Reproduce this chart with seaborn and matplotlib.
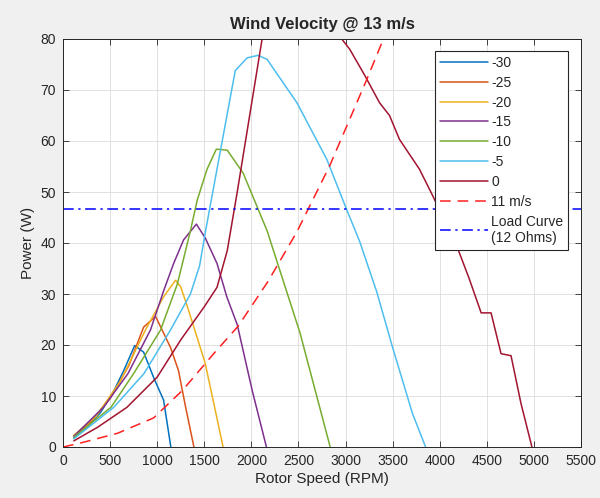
import matplotlib
matplotlib.use("Agg")
import matplotlib.pyplot as plt
import seaborn as sns
import pandas as pd

# ---- data ----
rpm_m30 = [115, 250, 400, 540, 650, 761, 856, 965, 1068, 1145]
pw_m30 = [1.8, 3.8, 6.8, 11.0, 15.2, 19.9, 18.6, 13.5, 9.2, 0.0]

rpm_m25 = [115, 300, 500, 700, 856, 983, 1142, 1226, 1300, 1390]
pw_m25 = [2.2, 5.0, 9.5, 16.0, 23.5, 25.6, 19.5, 15.0, 8.0, 0.0]

rpm_m20 = [115, 350, 613, 877, 1070, 1195, 1250, 1330, 1510, 1700]
pw_m20 = [2.3, 6.0, 13.0, 23.0, 29.5, 32.7, 31.4, 27.0, 16.4, 0.0]

rpm_m15 = [115, 430, 690, 930, 1070, 1175, 1280, 1416, 1510, 1635, 1740, 1850, 2010, 2160]
pw_m15 = [2.1, 7.8, 14.4, 23.0, 30.7, 36.0, 40.6, 43.7, 41.0, 36.0, 29.4, 24.0, 11.0, 0.0]

rpm_m10 = [115, 510, 750, 1035, 1215, 1353, 1425, 1530, 1628, 1744, 1913, 2167, 2516, 2837]
pw_m10 = [1.9, 7.8, 14.4, 22.9, 32.0, 42.4, 48.4, 54.5, 58.4, 58.2, 53.7, 42.4, 22.4, 0.0]

rpm_m5 = [115, 540, 860, 1140, 1353, 1450, 1512, 1829, 1955, 2072, 2167, 2484,
          2801, 3013, 3150, 3330, 3500, 3710, 3850]
pw_m5 = [1.6, 7.8, 14.4, 22.9, 30.0, 35.5, 42.2, 73.8, 76.3, 76.8, 76.0, 67.5,
         56.4, 46.5, 40.3, 30.5, 19.5, 6.6, 0.0]

rpm_0 = [115, 370, 680, 1000, 1250, 1500, 1635, 1744, 1850, 2114, 2300, 2550, 2800,
         2939, 3044, 3200, 3361, 3467, 3573, 3784, 3922, 4050, 4175, 4313, 4440,
         4545, 4651, 4757, 4862, 4979]
pw_0 = [1.2, 3.9, 7.8, 13.7, 21.0, 27.5, 31.3, 38.5, 50.0, 80.0, 95.0, 100.0, 90.0,
        80.5, 78.0, 73.0, 67.5, 65.0, 60.3, 54.5, 49.4, 44.5, 39.7, 33.0, 26.3,
        26.3, 18.3, 17.9, 8.6, 0.0]

rpm_11 = [0, 190, 580, 962, 1268, 1600, 1860, 2178, 2484, 2833, 3224, 3393, 3600]
pw_11 = [0.0, 0.8, 2.7, 5.7, 11.1, 18.3, 23.7, 32.5, 42.2, 55.2, 72.0, 79.6, 89.5]

rpm_load = [0, 5500]
pw_load = [46.6, 46.6]

series = [
    ("-30", rpm_m30, pw_m30, "#0072BD", None),
    ("-25", rpm_m25, pw_m25, "#D95319", None),
    ("-20", rpm_m20, pw_m20, "#EDB120", None),
    ("-15", rpm_m15, pw_m15, "#7E2F8E", None),
    ("-10", rpm_m10, pw_m10, "#77AC30", None),
    ("-5", rpm_m5, pw_m5, "#4DBEEE", None),
    ("0", rpm_0, pw_0, "#A2142F", None),
    ("11 m/s", rpm_11, pw_11, "#FF2020", (0, (7, 4.5))),
    ("Load Curve\n(12 Ohms)", rpm_load, pw_load, "#0000FF", (0, (7, 3, 1.5, 3))),
]

x_ticks = list(range(0, 5501, 500))
y_ticks = list(range(0, 81, 10))

# ---- style ----
sns.set_style("ticks")
plt.rcParams['font.family'] = ['Liberation Sans', 'DejaVu Sans']
plt.rcParams['axes.edgecolor'] = '#262626'
plt.rcParams['xtick.color'] = '#262626'
plt.rcParams['ytick.color'] = '#262626'

fig = plt.figure(figsize=(6.0, 4.98), dpi=100, facecolor='#f0f0f0')
ax = fig.add_axes([63/600, 1 - 447/498, 518/600, 408/498])
ax.set_facecolor('white')

for name, xs, ys, col, ls in series:
    df = pd.DataFrame({"rpm": xs, "power": ys})
    kw = {} if ls is None else {"linestyle": ls}
    sns.lineplot(data=df, x="rpm", y="power", ax=ax, color=col,
                 linewidth=1.1, sort=False, estimator=None, label=name, **kw)

ax.set_xlim(0, 5500)
ax.set_ylim(0, 80)
ax.set_xticks(x_ticks)
ax.set_yticks(y_ticks)
ax.tick_params(axis='both', which='both', direction='in', length=4, width=0.6,
               top=True, right=True, labelsize=10, colors='#262626', pad=5)
ax.grid(True, color='#dcdcdc', linewidth=0.6)
ax.set_axisbelow(True)
for sp in ax.spines.values():
    sp.set_visible(True)
    sp.set_linewidth(0.7)
    sp.set_color('#262626')

ax.set_title("Wind Velocity @ 13 m/s", fontsize=12, fontweight='bold', pad=7)
ax.set_xlabel("Rotor Speed (RPM)", fontsize=11, color='#262626', labelpad=3)
ax.set_ylabel("Power (W)", fontsize=11, color='#262626', labelpad=4)

leg = ax.legend(loc='upper right', bbox_to_anchor=(1 - 13/518, 1 - 12/408),
                borderaxespad=0, fontsize=10, handlelength=3.45,
                handletextpad=0.2, labelspacing=0.42, borderpad=0.35,
                frameon=True, fancybox=False, framealpha=1, edgecolor='#262626')
leg.get_frame().set_linewidth(0.8)

fig.savefig("out.png", dpi=100, facecolor=fig.get_facecolor())
